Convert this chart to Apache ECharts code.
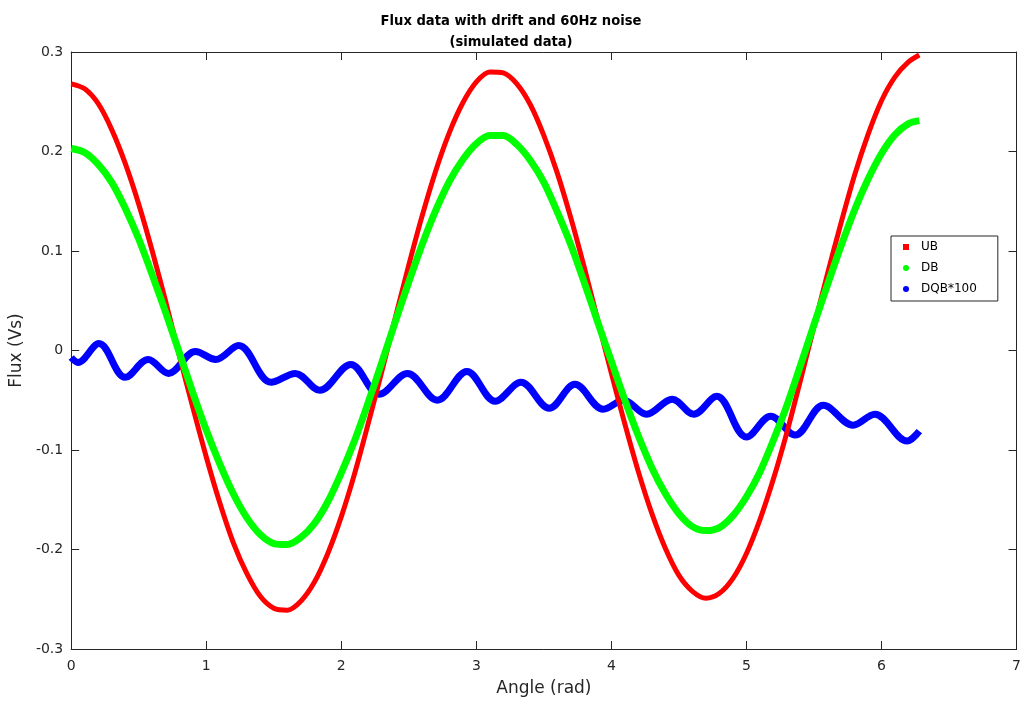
<!DOCTYPE html>
<html>
<head>
<meta charset="utf-8">
<title>Flux data with drift and 60Hz noise</title>
<script src="https://cdn.jsdelivr.net/npm/echarts@6/dist/echarts.min.js"></script>
<style>
  html, body { margin: 0; padding: 0; background: #ffffff; }
  #chart { width: 1024px; height: 702px; }
</style>
</head>
<body>
<div id="chart"></div>
<script>
// Angle samples (rad) for the UB and DB flux curves
const angleGrid = [0, 0.1, 0.2, 0.3, 0.4, 0.5, 0.6, 0.7, 0.8, 0.9, 1.0, 1.1, 1.2, 1.3, 1.4,
  1.5, 1.6, 1.7, 1.8, 1.9, 2.0, 2.1, 2.2, 2.3, 2.4, 2.5, 2.6, 2.7, 2.8, 2.9, 3.0, 3.1, 3.2,
  3.3, 3.4, 3.5, 3.6, 3.7, 3.8, 3.9, 4.0, 4.1, 4.2, 4.3, 4.4, 4.5, 4.6, 4.7, 4.8, 4.9, 5.0,
  5.1, 5.2, 5.3, 5.4, 5.5, 5.6, 5.7, 5.8, 5.9, 6.0, 6.1, 6.2, 6.28];

// UB flux (Vs)
const ubFlux = [0.268, 0.263, 0.248, 0.222, 0.188, 0.147, 0.100, 0.049, -0.005, -0.057,
  -0.107, -0.153, -0.193, -0.224, -0.247, -0.259, -0.261, -0.252, -0.233, -0.204, -0.167,
  -0.123, -0.073, -0.021, 0.033, 0.086, 0.136, 0.181, 0.219, 0.249, 0.270, 0.280, 0.279,
  0.268, 0.247, 0.216, 0.178, 0.133, 0.083, 0.030, -0.023, -0.074, -0.122, -0.164, -0.199,
  -0.226, -0.242, -0.249, -0.244, -0.229, -0.204, -0.170, -0.129, -0.082, -0.030, 0.024,
  0.077, 0.128, 0.176, 0.217, 0.251, 0.275, 0.290, 0.297];

// DB flux (Vs)
const dbFlux = [0.203, 0.199, 0.187, 0.169, 0.143, 0.112, 0.076, 0.038, -0.002, -0.042,
  -0.080, -0.114, -0.144, -0.168, -0.185, -0.194, -0.195, -0.188, -0.174, -0.152, -0.123,
  -0.090, -0.052, -0.012, 0.029, 0.069, 0.107, 0.141, 0.170, 0.192, 0.208, 0.216, 0.216,
  0.207, 0.191, 0.169, 0.139, 0.106, 0.068, 0.028, -0.011, -0.050, -0.086, -0.118, -0.144,
  -0.164, -0.177, -0.181, -0.178, -0.166, -0.147, -0.122, -0.090, -0.055, -0.015, 0.026,
  0.066, 0.105, 0.141, 0.172, 0.198, 0.217, 0.228, 0.231];

// DQB*100: angles of the ripple's turning points and their values
const dqbAngle = [0, 0.05, 0.205, 0.40, 0.57, 0.72, 0.92, 1.07, 1.24, 1.48, 1.66, 1.84, 2.07,
  2.28, 2.49, 2.71, 2.93, 3.14, 3.33, 3.54, 3.73, 3.94, 4.09, 4.26, 4.45, 4.61, 4.78, 5.00,
  5.18, 5.36, 5.57, 5.79, 5.95, 6.19, 6.28];
const dqbFlux = [-0.007, -0.012, 0.007, -0.027, -0.009, -0.023, -0.001, -0.009, 0.005, -0.032,
  -0.023, -0.040, -0.014, -0.044, -0.023, -0.050, -0.021, -0.051, -0.032, -0.058, -0.034,
  -0.059, -0.050, -0.064, -0.049, -0.064, -0.046, -0.087, -0.066, -0.085, -0.055, -0.075,
  -0.064, -0.091, -0.081];

// Axis ticks
const xTicks = [0, 1, 2, 3, 4, 5, 6, 7];
const yTicks = [-0.3, -0.2, -0.1, 0, 0.1, 0.2, 0.3];

const pairs = (xs, ys) => xs.map((x, i) => [x, ys[i]]);

const axisColor = '#262626';
const font = 'DejaVu Sans';

const chart = echarts.init(document.getElementById('chart'), null, { renderer: 'canvas' });

const boxAxis = {
  axisLine: { show: true, onZero: false, lineStyle: { color: axisColor, width: 1 } },
  axisTick: { show: true, inside: true, length: 8, lineStyle: { color: axisColor } },
  splitLine: { show: false }
};

chart.setOption({
  animation: false,
  backgroundColor: '#ffffff',
  title: {
    text: 'Flux data with drift and 60Hz noise\n(simulated data)',
    left: 506,
    top: 6,
    textAlign: 'center',
    textStyle: {
      fontFamily: 'DejaVu Sans Condensed',
      fontWeight: 'bold',
      fontSize: 14.6,
      lineHeight: 21,
      color: '#000000'
    }
  },
  legend: {
    orient: 'vertical',
    left: 891,
    top: 236,
    padding: [4, 21, 5, 12],
    itemGap: 7,
    itemWidth: 6,
    itemHeight: 6,
    backgroundColor: '#ffffff',
    borderColor: axisColor,
    borderWidth: 1,
    borderRadius: 0,
    textStyle: { fontFamily: font, fontSize: 12, lineHeight: 14, color: '#000000', padding: [0, 0, 0, 7] },
    data: [
      { name: 'UB', icon: 'rect' },
      { name: 'DB', icon: 'circle' },
      { name: 'DQB*100', icon: 'circle' }
    ]
  },
  grid: { left: 70, right: 3, top: 52, bottom: 48, containLabel: false },
  xAxis: [
    Object.assign({}, boxAxis, {
      type: 'value',
      min: xTicks[0],
      max: xTicks[xTicks.length - 1],
      interval: 1,
      name: 'Angle (rad)',
      nameLocation: 'middle',
      nameGap: 31,
      nameTextStyle: { fontFamily: font, fontSize: 17, color: axisColor },
      axisLabel: { fontFamily: font, fontSize: 14, color: axisColor, margin: 10 }
    }),
    Object.assign({}, boxAxis, {
      type: 'value',
      position: 'top',
      min: xTicks[0],
      max: xTicks[xTicks.length - 1],
      interval: 1,
      axisLabel: { show: false }
    })
  ],
  yAxis: [
    Object.assign({}, boxAxis, {
      type: 'value',
      min: yTicks[0],
      max: yTicks[yTicks.length - 1],
      interval: 0.1,
      name: 'Flux (Vs)',
      nameLocation: 'middle',
      nameGap: 42,
      nameTextStyle: { fontFamily: font, fontSize: 17, color: axisColor },
      axisLabel: {
        fontFamily: font, fontSize: 14, color: axisColor, margin: 8,
        formatter: v => String(+v.toFixed(1))
      }
    }),
    Object.assign({}, boxAxis, {
      type: 'value',
      position: 'right',
      min: yTicks[0],
      max: yTicks[yTicks.length - 1],
      interval: 0.1,
      axisLabel: { show: false }
    })
  ],
  series: [
    {
      name: 'UB', type: 'line', smooth: 0.3, showSymbol: false, z: 3,
      color: '#ff0000',
      lineStyle: { color: '#ff0000', width: 5 },
      data: pairs(angleGrid, ubFlux)
    },
    {
      name: 'DB', type: 'line', smooth: 0.3, showSymbol: false, z: 4,
      color: '#00ff00',
      lineStyle: { color: '#00ff00', width: 7 },
      data: pairs(angleGrid, dbFlux)
    },
    {
      name: 'DQB*100', type: 'line', smooth: 0.36, showSymbol: false, z: 2,
      color: '#0000ff',
      lineStyle: { color: '#0000ff', width: 7 },
      data: pairs(dqbAngle, dqbFlux)
    }
  ]
});
</script>
</body>
</html>
